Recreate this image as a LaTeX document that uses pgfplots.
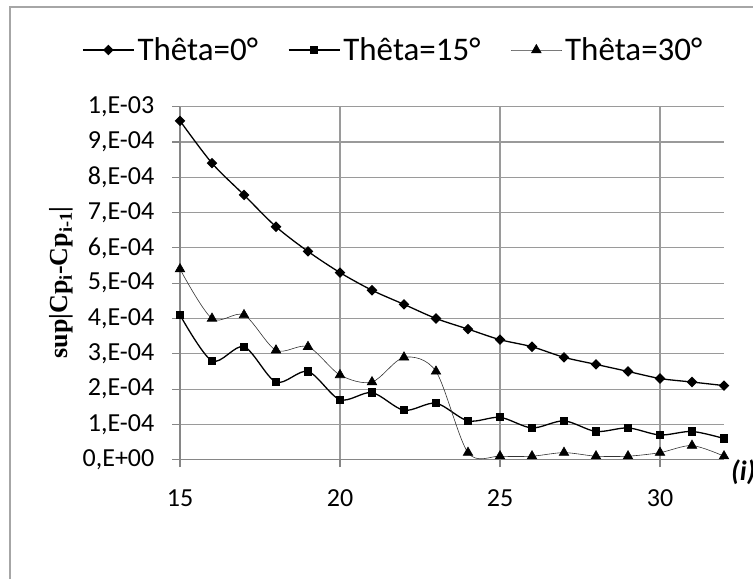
\documentclass[border=0pt]{standalone}
\usepackage{pgfplots}
\pgfplotsset{compat=1.18}
\usepackage{fontspec}
\setmainfont{Carlito}
\newfontfamily\timesfont{Liberation Serif}
\definecolor{gridgray}{HTML}{9A9A9A}
\definecolor{axisgray}{HTML}{868686}
\definecolor{bordergray}{HTML}{A6A6A6}
\begin{document}
\begin{tikzpicture}[x=1pt,y=1pt]
\useasboundingbox (0,0) rectangle (753,579);
\draw[bordergray,line width=1.2pt] (10,0) -- (10,572) -- (760,572);
\begin{axis}[
  at={(180pt,119.3pt)}, anchor=south west,
  scale only axis, width=544pt, height=353pt,
  xmin=15, xmax=32, ymin=0, ymax=0.001,
  axis x line*=bottom, axis y line*=left,
  axis line style={axisgray,line width=1.1pt,-},
  xtick={15,20,25,30}, xticklabels={15,20,25,30},
  ytick={0,0.0001,0.0002,0.0003,0.0004,0.0005,0.0006,0.0007,0.0008,0.0009,0.001},
  yticklabels={{0,E+00},{1,E-04},{2,E-04},{3,E-04},{4,E-04},{5,E-04},{6,E-04},{7,E-04},{8,E-04},{9,E-04},{1,E-03}},
  scaled y ticks=false,
  tick align=outside, major tick length=7.5pt,
  tick style={axisgray,line width=1.1pt},
  grid=major, major grid style={gridgray,line width=1.1pt},
  ticklabel style={font=\fontsize{26}{30}\selectfont},
  yticklabel style={inner sep=0pt, xshift=-18pt, anchor=east},
  xticklabel style={inner sep=0pt, yshift=-22pt, anchor=north},
  legend columns=3,
  legend style={at={(-0.180,1.1606)}, anchor=west, draw=none, fill=none,
    inner sep=0pt, font=\fontsize{33}{38}\selectfont,
    nodes={inner sep=3pt},
    /tikz/every even column/.append style={column sep=27pt}},
  legend image code/.code={\draw[mark repeat=2,mark phase=2,#1] plot coordinates {(0pt,0pt)(25.5pt,0pt)(51pt,0pt)};},
]
\addplot[black, line width=1.3pt, smooth, tension=0.5, mark=square*, mark size=3.1pt, mark options={rotate=45, solid}] coordinates {
(15,0.00096) (16,0.00084) (17,0.00075) (18,0.00066) (19,0.00059) (20,0.00053) (21,0.00048) (22,0.00044) (23,0.00040) (24,0.00037) (25,0.00034) (26,0.00032) (27,0.00029) (28,0.00027) (29,0.00025) (30,0.00023) (31,0.00022) (32,0.00021)};
\addlegendentry{Thêta=0°}
\addplot[black, line width=1.3pt, smooth, tension=0.5, mark=square*, mark size=3.5pt] coordinates {
(15,0.00041) (16,0.00028) (17,0.00032) (18,0.00022) (19,0.00025) (20,0.00017) (21,0.00019) (22,0.00014) (23,0.00016) (24,0.00011) (25,0.00012) (26,0.00009) (27,0.00011) (28,0.00008) (29,0.00009) (30,0.00007) (31,0.00008) (32,0.00006)};
\addlegendentry{Thêta=15°}
\addplot[black!80, line width=0.6pt, smooth, tension=0.5, mark=triangle*, mark size=5.5pt, mark options={black}] coordinates {
(15,0.00054) (16,0.00040) (17,0.00041) (18,0.00031) (19,0.00032) (20,0.00024) (21,0.00022) (22,0.00029) (23,0.00025) (24,0.00002) (25,0.00001) (26,0.00001) (27,0.00002) (28,0.00001) (29,0.00001) (30,0.00002) (31,0.00004) (32,0.00001)};
\addlegendentry{Thêta=30°}
\end{axis}
\node[anchor=west, inner sep=0pt, font=\fontsize{28}{32}\selectfont\bfseries\itshape] at (731,107) {(\textit{i})};
\node[rotate=90, inner sep=0pt, font=\timesfont\bfseries\fontsize{26}{30}\selectfont] at (61.5,296.5) {sup|Cp\textsubscript{i}-Cp\textsubscript{i-1}|};
\end{tikzpicture}
\end{document}
